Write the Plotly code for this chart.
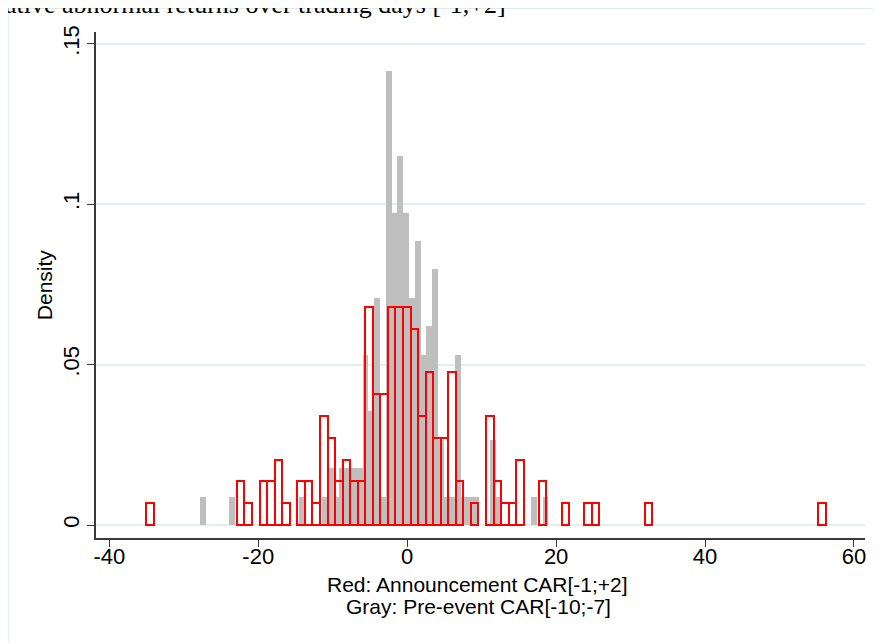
import plotly.graph_objects as go

# ---------------- data ----------------
# Red histogram: Announcement CAR[-1;+2], 90 bins
red_bin_start = -35.03
red_bin_width = 1.0137
red_counts = [
    1, 0, 0, 0, 0, 0, 0, 0, 0, 0,
    0, 0, 2, 1, 0, 2, 2, 3, 1, 0,
    2, 2, 1, 5, 4, 2, 3, 2, 2, 10,
    6, 6, 10, 10, 10, 9, 5, 7, 4, 4,
    7, 2, 0, 1, 0, 5, 2, 1, 1, 3,
    0, 0, 2, 0, 0, 1, 0, 0, 1, 1,
    0, 0, 0, 0, 0, 0, 1, 0, 0, 0,
    0, 0, 0, 0, 0, 0, 0, 0, 0, 0,
    0, 0, 0, 0, 0, 0, 0, 0, 0, 1,
]

# Gray histogram: Pre-event CAR[-10;-7], 60 bins
gray_bin_start = -27.79
gray_bin_width = 0.779
gray_counts = [
    1, 0, 0, 0, 0, 1, 0, 0, 0, 0,
    0, 0, 0, 0, 0, 0, 0, 1, 0, 0,
    0, 1, 2, 1, 2, 2, 2, 2, 6, 4,
    8, 1, 16, 11, 13, 11, 8, 10, 6, 7,
    9, 3, 1, 1, 6, 1, 1, 1, 0, 0,
    3, 1, 0, 0, 0, 0, 0, 1, 0, 1,
]

x_tick_vals = [-40, -20, 0, 20, 40, 60]
x_tick_text = ["-40", "-20", "0", "20", "40", "60"]
y_tick_vals = [0, 0.05, 0.1, 0.15]
y_tick_text = ["0", ".05", ".1", ".15"]

top_text = "ative abnormal returns over trading days [-1,+2]"
x_title_1 = "Red: Announcement CAR[-1;+2]"
x_title_2 = "Gray: Pre-event CAR[-10;-7]"
y_title = "Density"


def hist_bars(start, width, counts):
    n = sum(counts)
    xs, ys = [], []
    for i, c in enumerate(counts):
        if c > 0:
            xs.append(start + (i + 0.5) * width)
            ys.append(c / (n * width))
    return xs, ys


gx, gy = hist_bars(gray_bin_start, gray_bin_width, gray_counts)
rx, ry = hist_bars(red_bin_start, red_bin_width, red_counts)

# ---------------- figure ----------------
OFF = 8  # page body margin
W, H = 873, 635
ml, mr, mt, mb = 87.7, 16, 24, 104.7
pw, ph = W - ml - mr, H - mt - mb


def px_x(p):  # page pixel -> paper
    return (p - OFF - ml) / pw


def px_y(p):
    return (H - mb - (p - OFF)) / ph


FONT = "Liberation Sans, Arial, Helvetica, sans-serif"
AXIS_COL = "#3a3a3a"
GRID_COL = "#e4eef0"

fig = go.Figure()
fig.add_trace(go.Bar(
    x=gx, y=gy, width=gray_bin_width,
    marker=dict(color="#bfbfbf", line=dict(width=0)),
    name="Gray", hoverinfo="x+y",
))
fig.add_trace(go.Bar(
    x=rx, y=ry, width=red_bin_width,
    marker=dict(color="rgba(0,0,0,0)", line=dict(color="#ff0000", width=2)),
    name="Red", hoverinfo="x+y",
))

fig.update_layout(
    width=W, height=H,
    margin=dict(l=ml, r=mr, t=mt, b=mb, autoexpand=False),
    paper_bgcolor="white", plot_bgcolor="white",
    barmode="overlay", bargap=0, showlegend=False,
    font=dict(family=FONT, color="black"),
)

fig.update_xaxes(
    range=[-41.79, 61.48],
    tickvals=x_tick_vals, ticktext=x_tick_text,
    showgrid=False, zeroline=False,
    showline=True, linecolor=AXIS_COL, linewidth=1.6,
    ticks="outside", ticklen=7, tickwidth=1.4, tickcolor=AXIS_COL,
    tickfont=dict(size=22, family=FONT, color="black"),
    ticklabelstandoff=-9,
)
fig.update_yaxes(
    range=[-0.00405, 0.15368],
    tickvals=y_tick_vals, ticktext=y_tick_text,
    tickangle=-90,
    showgrid=True, gridcolor=GRID_COL, gridwidth=1.5,
    zeroline=False,
    showline=True, linecolor=AXIS_COL, linewidth=1.6,
    ticks="outside", ticklen=7, tickwidth=1.4, tickcolor=AXIS_COL,
    tickfont=dict(size=22, family=FONT, color="black"),
    ticklabelstandoff=-1,
)

annotations = [
    dict(text=y_title, xref="paper", yref="paper", x=px_x(45), y=px_y(285),
         textangle=-90, showarrow=False, xanchor="center", yanchor="middle",
         font=dict(size=21, family=FONT, color="black")),
    dict(text=x_title_1, xref="paper", yref="paper", x=px_x(477), y=px_y(584.5),
         showarrow=False, xanchor="center", yanchor="middle",
         font=dict(size=21, family=FONT, color="black")),
    dict(text=x_title_2, xref="paper", yref="paper", x=px_x(478), y=px_y(606.5),
         showarrow=False, xanchor="center", yanchor="middle",
         font=dict(size=21, family=FONT, color="black")),
    dict(text=top_text, xref="paper", yref="paper", x=px_x(3), y=px_y(21),
         showarrow=False, xanchor="left", yanchor="bottom",
         font=dict(size=26, family="Liberation Serif, Times New Roman, serif", color="black")),
]
fig.update_layout(annotations=annotations)

# faint outer frame (graph region border), left and top edges visible
fig.add_shape(type="line", xref="paper", yref="paper",
              x0=px_x(8.5), x1=px_x(8.5), y0=px_y(8.5), y1=px_y(660),
              line=dict(color="#e3eaec", width=1))
fig.add_shape(type="line", xref="paper", yref="paper",
              x0=px_x(8.5), x1=px_x(900), y0=px_y(8.5), y1=px_y(8.5),
              line=dict(color="#e3eaec", width=1))

fig.write_html("out.html")
